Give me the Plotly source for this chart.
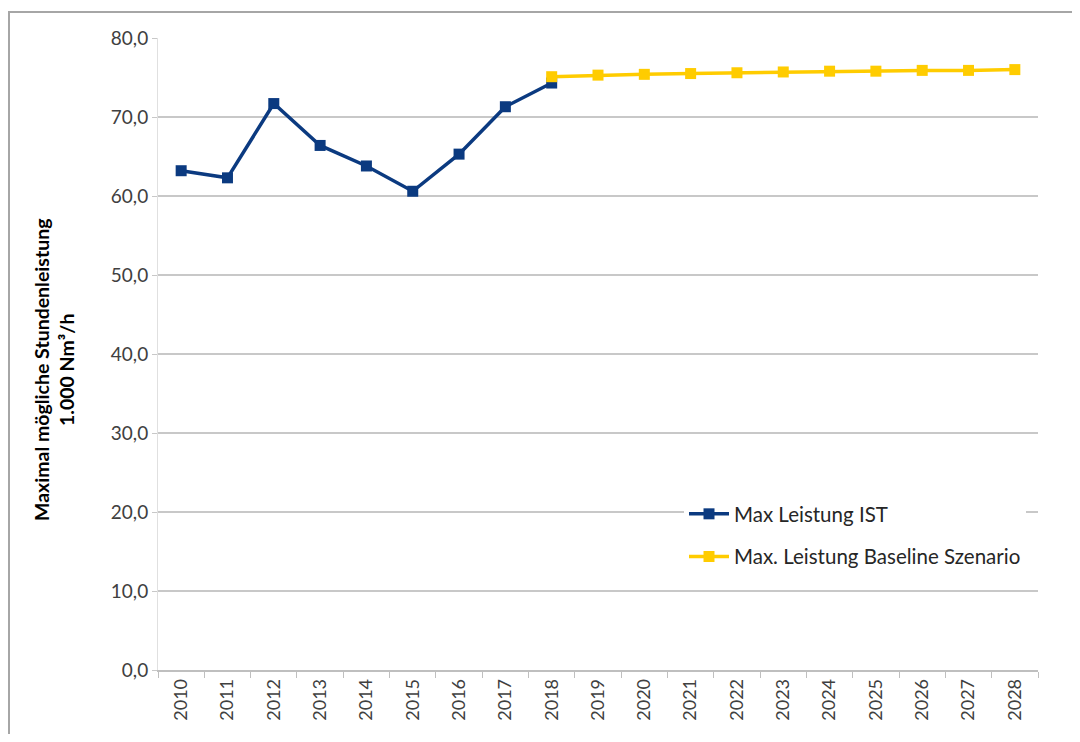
import plotly.graph_objects as go

years = [str(y) for y in range(2010, 2029)]
ist_years = years[:9]
ist_values = [63.2, 62.3, 71.7, 66.4, 63.8, 60.6, 65.3, 71.3, 74.3]
base_years = years[8:]
base_values = [75.1, 75.3, 75.4, 75.5, 75.6, 75.7, 75.8, 75.8, 75.9, 75.9, 76.0]

ist_name = "Max Leistung IST"
base_name = "Max. Leistung Baseline Szenario"
y_title = "<b>Maximal mögliche Stundenleistung<br>1.000 Nm³/h</b>"

FONT = "Lato, Open Sans, sans-serif"

fig = go.Figure()
fig.add_trace(go.Scatter(
    x=ist_years, y=ist_values, name=ist_name, mode="lines+markers", legendgroup="a",
    line=dict(color="#0B3A80", width=3.5),
    marker=dict(symbol="square", size=11, color="#0B3A80"),
))
fig.add_trace(go.Scatter(
    x=base_years, y=base_values, name=base_name, mode="lines+markers", legendgroup="b",
    line=dict(color="#FFCC00", width=3.5),
    marker=dict(symbol="square", size=11, color="#FFCC00"),
))

# page offset of the figure div (default body margin)
OFF = 8
W, H = 1080 - 2 * OFF, 742 - 2 * OFF
PL, PR, PT, PB = 158, 1038, 38, 670  # plot area in page pixels
L, R, T, B = PL - OFF, W - (PR - OFF), PT - OFF, H - (PB - OFF)
pw, ph = W - L - R, H - T - B

def px(x):
    return (x - OFF - L) / pw

def py(y):
    return (H - B - (y - OFF)) / ph

fig.add_shape(type="rect", xref="paper", yref="paper",
              x0=px(9), x1=px(1100), y0=py(12), y1=py(780),
              line=dict(color="#A6A6A6", width=2), fillcolor="rgba(0,0,0,0)",
              layer="below")

fig.add_annotation(
    text=y_title, xref="paper", yref="paper",
    x=px(54), y=py(370), xanchor="center", yanchor="middle",
    textangle=-90, showarrow=False,
    font=dict(size=19.5, color="#000000", family=FONT),
)

fig.update_layout(
    width=W, height=H,
    margin=dict(l=L, r=R, t=T, b=B, pad=0),
    paper_bgcolor="white", plot_bgcolor="white",
    separators=",.",
    font=dict(family=FONT, color="#404040", size=19),
    showlegend=True,
    legend=dict(
        x=px(684), y=py(494), xanchor="left", yanchor="top",
        bgcolor="white", font=dict(size=20.5, color="#262626"),
        tracegroupgap=13, itemwidth=40,
    ),
    xaxis=dict(
        type="category", categoryorder="array", categoryarray=years,
        tickangle=-90, showgrid=False, showline=True, linecolor="#BFBFBF", linewidth=1.5,
        ticks="outside", tickson="boundaries", ticklen=6, tickcolor="#BFBFBF",
        tickfont=dict(size=18, color="#404040"),
        range=[-0.5, 18.5],
    ),
    yaxis=dict(
        range=[0, 80], dtick=10, tickformat=".1f",
        showgrid=True, gridcolor="#C8C8C8", gridwidth=1.5,
        showline=True, linecolor="#E0E0E0", linewidth=1,
        ticks="outside", ticklen=5, tickcolor="#C8C8C8",
        tickfont=dict(size=19, color="#404040"),
        zeroline=False,
    ),
)

fig.write_html("out.html")
